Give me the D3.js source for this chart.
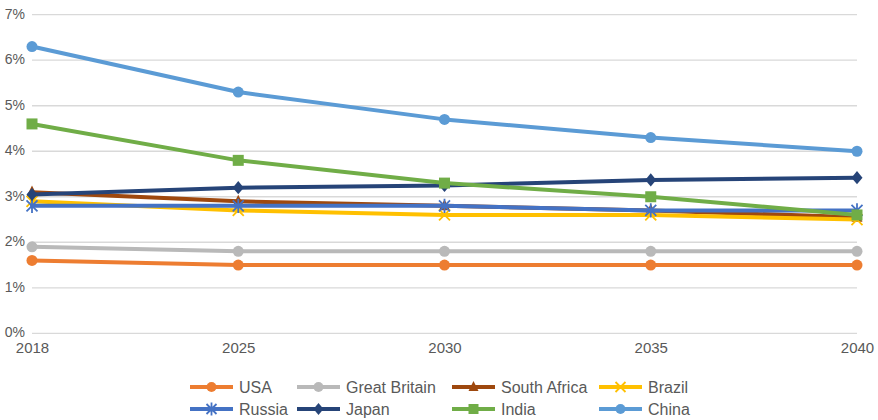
<!DOCTYPE html>
<html>
<head>
<meta charset="utf-8">
<script src="https://cdn.jsdelivr.net/npm/d3@7"></script>
<style>
  html, body { margin: 0; padding: 0; background: #fff; }
  svg { display: block; font-family: "Liberation Sans", Arial, sans-serif; }
</style>
</head>
<body>
<svg id="chart" width="878" height="420"></svg>
<script>
// Categories (years) and y tick values
const years = ["2018", "2025", "2030", "2035", "2040"];
const yTicks = [0, 0.01, 0.02, 0.03, 0.04, 0.05, 0.06, 0.07];

// Series values (share, per year)
const usa          = [0.016, 0.015, 0.015, 0.015, 0.015];
const greatBritain = [0.019, 0.018, 0.018, 0.018, 0.018];
const southAfrica  = [0.031, 0.029, 0.028, 0.027, 0.0255];
const brazil       = [0.029, 0.027, 0.026, 0.026, 0.025];
const russia       = [0.028, 0.028, 0.028, 0.027, 0.027];
const japan        = [0.0305, 0.032, 0.0325, 0.0337, 0.0342];
const india        = [0.046, 0.038, 0.033, 0.030, 0.026];
const china        = [0.063, 0.053, 0.047, 0.043, 0.040];

const series = [
  { name: "USA",           values: usa,          color: "#ED7D31", marker: "circle" },
  { name: "Great Britain", values: greatBritain, color: "#B9B9B9", marker: "circle" },
  { name: "South Africa",  values: southAfrica,  color: "#9E480E", marker: "triangle" },
  { name: "Brazil",        values: brazil,       color: "#FFC000", marker: "x" },
  { name: "Russia",        values: russia,       color: "#4472C4", marker: "star" },
  { name: "Japan",         values: japan,        color: "#264478", marker: "diamond" },
  { name: "India",         values: india,        color: "#70AD47", marker: "square" },
  { name: "China",         values: china,        color: "#5B9BD5", marker: "circle" }
];

const svg = d3.select("#chart");
const plotLeft = 32, plotRight = 857, plotTop = 14.7, plotBottom = 333.3;

const x = d3.scalePoint().domain(years).range([plotLeft, plotRight]);
const y = d3.scaleLinear().domain([0, 0.07]).range([plotBottom, plotTop]);

// Horizontal gridlines
svg.append("g")
  .selectAll("line")
  .data(yTicks)
  .join("line")
  .attr("x1", plotLeft).attr("x2", plotRight)
  .attr("y1", d => y(d)).attr("y2", d => y(d))
  .attr("stroke", "#D9D9D9").attr("stroke-width", 1.3);

// Y axis labels
const yAxis = d3.axisLeft(y).tickValues(yTicks).tickFormat(d3.format(".0%")).tickSize(0).tickPadding(7);
const gy = svg.append("g").attr("transform", `translate(${plotLeft},-1)`).call(yAxis);
gy.select(".domain").remove();
gy.selectAll("text").attr("fill", "#595959").attr("font-size", 14)
  .attr("font-family", "Liberation Sans, Arial, sans-serif");

// X axis labels
const xAxis = d3.axisBottom(x).tickSize(0).tickPadding(9);
const gx = svg.append("g").attr("transform", `translate(0,${plotBottom})`).call(xAxis);
gx.select(".domain").remove();
gx.selectAll("text").attr("fill", "#595959").attr("font-size", 15)
  .attr("font-family", "Liberation Sans, Arial, sans-serif");

// Marker drawing helper
function drawMarker(g, type, color, size) {
  const s = size;
  if (type === "circle") {
    g.append("circle").attr("r", s).attr("fill", color);
  } else if (type === "square") {
    g.append("rect").attr("x", -s).attr("y", -s).attr("width", 2 * s).attr("height", 2 * s).attr("fill", color);
  } else if (type === "diamond") {
    g.append("path").attr("d", `M0,${-s * 1.2}L${s},0L0,${s * 1.2}L${-s},0Z`).attr("fill", color);
  } else if (type === "triangle") {
    g.append("path").attr("d", `M0,${-s * 1.2}L${s},${s * 0.8}L${-s},${s * 0.8}Z`).attr("fill", color);
  } else if (type === "x") {
    g.append("path").attr("d", `M${-s},${-s}L${s},${s}M${-s},${s}L${s},${-s}`)
      .attr("stroke", color).attr("stroke-width", 1.8).attr("fill", "none");
  } else if (type === "star") {
    g.append("path").attr("d", `M${-s},${-s}L${s},${s}M${-s},${s}L${s},${-s}M0,${-s * 1.3}L0,${s * 1.3}`)
      .attr("stroke", color).attr("stroke-width", 1.8).attr("fill", "none");
  }
}

const line = d3.line().x((d, i) => x(years[i])).y(d => y(d));

// Lines and markers, drawn in series order
series.forEach(s => {
  const g = svg.append("g");
  g.append("path").datum(s.values)
    .attr("d", line)
    .attr("fill", "none")
    .attr("stroke", s.color)
    .attr("stroke-width", 4)
    .attr("stroke-linejoin", "round")
    .attr("stroke-linecap", "round");
  s.values.forEach((v, i) => {
    const m = g.append("g").attr("transform", `translate(${x(years[i])},${y(v)})`);
    drawMarker(m, s.marker, s.color, 5.5);
  });
});

// Legend: two rows of four
const legendCols = [190, 297, 452, 599];
const legendRows = [387, 409];
series.forEach((s, i) => {
  const lx = legendCols[i % 4], ly = legendRows[Math.floor(i / 4)];
  const g = svg.append("g").attr("transform", `translate(${lx},${ly})`);
  g.append("line").attr("x1", 0).attr("x2", 43).attr("y1", 0).attr("y2", 0)
    .attr("stroke", s.color).attr("stroke-width", 4);
  const m = g.append("g").attr("transform", "translate(21.5,0)");
  drawMarker(m, s.marker, s.color, 5);
  g.append("text").attr("x", 49).attr("y", 0).attr("dy", "0.35em")
    .attr("fill", "#595959").attr("font-size", 16).text(s.name);
});
</script>
</body>
</html>
